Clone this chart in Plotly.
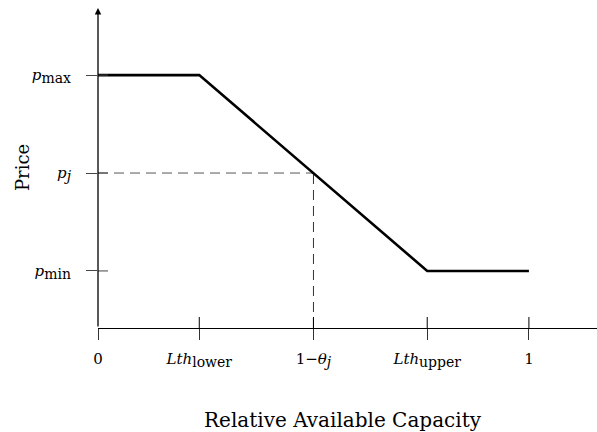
import plotly.graph_objects as go

# Data (normalised units)
lth_lower = 0.235
one_minus_theta = 0.5
lth_upper = 0.764
p_min = 0.2
p_j = 0.6
p_max = 1.0

curve_x = [0, lth_lower, lth_upper, 1]
curve_y = [p_max, p_max, p_min, p_min]

SUB = "<sub><span style='font-size:14px'>{}</span></sub>"
x_tickvals = [0, lth_lower, one_minus_theta, lth_upper, 1]
x_ticktext = ["0", "<i>Lth</i>" + SUB.format("lower"),
              "1\u2212<i>\u03b8</i>" + SUB.format("<i>j</i>"),
              "<i>Lth</i>" + SUB.format("upper"), "1"]
y_tickvals = [p_min, p_j, p_max]
y_ticktext = ["<i>p</i>" + SUB.format("min"), "<i>p</i>" + SUB.format("<i>j</i>"),
              "<i>p</i>" + SUB.format("max")]

X_RANGE = [0, 1.158]
Y_RANGE = [-0.033, 1.274]
FONT = "DejaVu Serif, Liberation Serif, serif"

W, H = 597, 432
L, R, T, B = 98, 0, 8, 104
PW, PH = W - L - R, H - T - B

fig = go.Figure()
fig.add_trace(go.Scatter(x=[0, one_minus_theta], y=[p_j, p_j], mode="lines",
                         line=dict(color="#555", width=1, dash="10px,6px"),
                         hoverinfo="skip", showlegend=False))
fig.add_trace(go.Scatter(x=[one_minus_theta, one_minus_theta], y=[Y_RANGE[0], p_j], mode="lines",
                         line=dict(color="#333", width=1, dash="10px,6px"),
                         hoverinfo="skip", showlegend=False))
fig.add_trace(go.Scatter(x=curve_x, y=curve_y, mode="lines",
                         line=dict(color="black", width=2.6),
                         hoverinfo="skip", showlegend=False))

shapes = []
# inner halves of ticks
for v in x_tickvals[1:]:
    shapes.append(dict(type="line", xref="x", yref="paper", x0=v, x1=v, y0=0, y1=11 / PH,
                       line=dict(color="black", width=1)))
for v in y_tickvals:
    shapes.append(dict(type="line", xref="paper", yref="y", x0=0, x1=10 / PW, y0=v, y1=v,
                       line=dict(color="#444", width=1)))
fig.update_layout(shapes=shapes)

# y-axis with arrow
fig.add_annotation(xref="x domain", yref="y domain", x=0, y=1.0, ax=0, ay=0,
                   axref="x domain", ayref="y domain", showarrow=True, arrowhead=2,
                   arrowsize=1, arrowwidth=1.3, arrowcolor="black", text="")

fig.add_annotation(text="Relative Available Capacity", xref="paper", yref="paper",
                   x=(343 - 98) / PW, y=-(420 - 328) / PH, xanchor="center", yanchor="middle",
                   showarrow=False, font=dict(family=FONT, size=20, color="black"))
fig.add_annotation(text="Price", xref="paper", yref="paper",
                   x=(22 - 98) / PW, y=0.5, xanchor="center", yanchor="middle",
                   showarrow=False, textangle=-90,
                   font=dict(family=FONT, size=18, color="black"))

fig.update_xaxes(range=X_RANGE, tickvals=x_tickvals, ticktext=x_ticktext,
                 showgrid=False, zeroline=False, showline=True, linecolor="black", linewidth=1.3,
                 ticks="outside", ticklen=11, tickcolor="#333", tickwidth=1,
                 ticklabelstandoff=6,
                 tickfont=dict(family=FONT, size=15, color="black"))
fig.update_yaxes(range=Y_RANGE, tickvals=y_tickvals, ticktext=y_ticktext,
                 showgrid=False, zeroline=False, showline=False,
                 ticks="outside", ticklen=11, tickcolor="#444", tickwidth=1,
                 ticklabelstandoff=12,
                 tickfont=dict(family=FONT, size=15, color="black"))

fig.update_layout(width=W, height=H, margin=dict(l=L, r=R, t=T, b=B, autoexpand=False),
                  plot_bgcolor="white", paper_bgcolor="white")

fig.write_html("out.html", config={"displayModeBar": False},
               post_script="document.body.style.margin='0';document.body.style.overflow='hidden';")
